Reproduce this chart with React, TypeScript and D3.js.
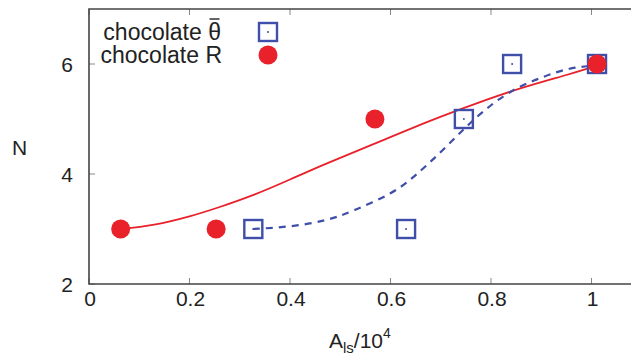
import React from "react";
import * as d3 from "d3";

const W = 631;
const H = 358;

const xTicks = [0, 0.2, 0.4, 0.6, 0.8, 1];
const yTicks = [2, 4, 6];

const redX = [0.063, 0.253, 0.569, 1.011];
const redY = [3, 3, 5, 6];

const blueX = [0.327, 0.631, 0.746, 0.842, 1.011];
const blueY = [3, 3, 5, 6, 6];

// fitted curves
const redFitX = [0.064, 0.13, 0.2, 0.26, 0.33, 0.4, 0.47, 0.56, 0.68, 0.77, 0.86, 0.95, 1.011];
const redFitY = [3.0, 3.08, 3.23, 3.4, 3.63, 3.9, 4.18, 4.52, 4.97, 5.28, 5.56, 5.8, 5.97];

const blueFitX = [0.326, 0.4, 0.47, 0.53, 0.6, 0.65, 0.7, 0.75, 0.8, 0.85, 0.9, 0.95, 1.0];
const blueFitY = [3.0, 3.05, 3.16, 3.35, 3.65, 3.98, 4.4, 4.85, 5.25, 5.55, 5.75, 5.9, 5.97];

const RED = "#e8212b";
const BLUE = "#3f4ea8";
const FONT = "Liberation Sans, Arial, Helvetica, sans-serif";

export default function App() {
  const x = d3.scaleLinear().domain([0, 1.1]).range([89, 89 + 502.5 * 1.1]);
  const y = d3.scaleLinear().domain([2, 7]).range([284, 9]);
  const line = d3
    .line<[number, number]>()
    .x((d) => x(d[0]))
    .y((d) => y(d[1]))
    .curve(d3.curveNatural);
  const redPath = line(redFitX.map((v, i) => [v, redFitY[i]]) as [number, number][]) || "";
  const bluePath = line(blueFitX.map((v, i) => [v, blueFitY[i]]) as [number, number][]) || "";
  const x0 = x(0);
  const x1 = x(1.1);
  const y0 = y(2);
  const y1 = y(7);
  const sq = 18;

  return (
    <svg
      width={W}
      height={H}
      style={{ position: "absolute", left: 0, top: 0, background: "#fff" }}
      fontFamily={FONT}
    >
      <defs>
        <clipPath id="plot">
          <rect x={x0} y={y1} width={x1 - x0} height={y0 - y1} />
        </clipPath>
      </defs>
      {/* ticks */}
      {xTicks.map((t) => (
        <g key={"xt" + t}>
          <line x1={x(t)} x2={x(t)} y1={y0} y2={y0 - 6} stroke="#888" strokeWidth={1} />
          <line x1={x(t)} x2={x(t)} y1={y1} y2={y1 + 6} stroke="#888" strokeWidth={1} />
          <text x={x(t) + 1} y={y0 + 22} fontSize={21} textAnchor="middle" fill="#222">
            {String(t)}
          </text>
        </g>
      ))}
      {yTicks.map((t) => (
        <g key={"yt" + t}>
          <line x1={x0} x2={x0 + 6} y1={y(t)} y2={y(t)} stroke="#888" strokeWidth={1} />
          <text x={73} y={y(t) + 8} fontSize={21} textAnchor="end" fill="#222">
            {String(t)}
          </text>
        </g>
      ))}
      {/* frame */}
      <path
        d={`M${x1},${y1}H${x0}V${y0}H${x1}`}
        fill="none"
        stroke="#444"
        strokeWidth={1.6}
      />
      {/* axis titles */}
      <text x={12} y={155} fontSize={21} fill="#222">N</text>
      <text x={329} y={348} fontSize={21} fill="#222">
        A
        <tspan fontSize={15} dy={5}>ls</tspan>
        <tspan fontSize={21} dy={-5}>/10</tspan>
        <tspan fontSize={14} dy={-10}>4</tspan>
      </text>
      {/* curves */}
      <g clipPath="url(#plot)">
        <path d={redPath} fill="none" stroke={RED} strokeWidth={1.8} />
        <path d={bluePath} fill="none" stroke={BLUE} strokeWidth={2.2} strokeDasharray="7,6" />
        {blueX.map((v, i) => (
          <g key={"b" + i}>
            <rect
              x={x(v) - sq / 2}
              y={y(blueY[i]) - sq / 2}
              width={sq}
              height={sq}
              fill="none"
              stroke={BLUE}
              strokeWidth={2.4}
            />
            <circle cx={x(v)} cy={y(blueY[i])} r={1} fill={BLUE} />
          </g>
        ))}
        {redX.map((v, i) => (
          <circle key={"r" + i} cx={x(v)} cy={y(redY[i])} r={9.5} fill={RED} />
        ))}
      </g>
      {/* legend */}
      <text x={221} y={40} fontSize={23} textAnchor="end" fill="#222">
        {"chocolate "}
        <tspan>θ</tspan>
      </text>
      <line x1={209.5} x2={219.5} y1={19} y2={19} stroke="#222" strokeWidth={1.4} />
      <rect x={268 - sq / 2} y={32 - sq / 2} width={sq} height={sq} fill="none" stroke={BLUE} strokeWidth={2.4} />
      <circle cx={268} cy={32} r={1} fill={BLUE} />
      <text x={222} y={63} fontSize={23} textAnchor="end" fill="#222">
        chocolate R
      </text>
      <circle cx={268} cy={55} r={9.5} fill={RED} />
    </svg>
  );
}
